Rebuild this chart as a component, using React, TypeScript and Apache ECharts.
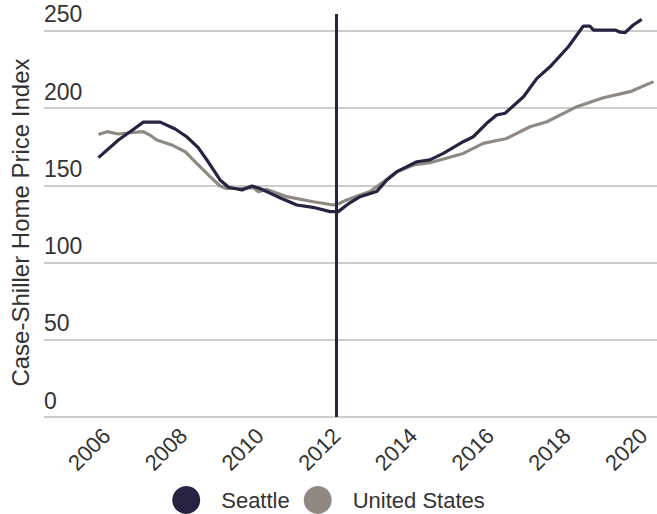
import React, { useEffect, useRef } from "react";
import * as echarts from "echarts";

const yearTicks = [2006, 2008, 2010, 2012, 2014, 2016, 2018, 2020];
const yTicks = [0, 50, 100, 150, 200, 250];
const markerYear = 2012;

const seattleDates = [
  2005.79, 2006.31, 2006.74, 2006.96, 2007.4, 2007.79, 2008.09, 2008.39, 2008.65, 2008.96,
  2009.18, 2009.53, 2009.79, 2010.0, 2010.26, 2010.52, 2010.96, 2011.38, 2011.83, 2012.04,
  2012.3, 2012.61, 2013.04, 2013.31, 2013.57, 2014.09, 2014.43, 2014.78, 2015.3, 2015.56,
  2015.91, 2016.17, 2016.39, 2016.87, 2017.22, 2017.56, 2018.04, 2018.43, 2018.6, 2018.69,
  2019.26, 2019.39, 2019.52, 2019.73, 2019.95,
];
const seattleValues = [
  168, 179.4, 187, 191, 191, 186.5, 181.5, 174.5, 165.3, 153.5,
  148.8, 147, 149.6, 148, 145, 142, 137.3, 135.8, 133, 133,
  138, 142.7, 146, 153.5, 158.9, 165.3, 166.5, 170.7, 178.3, 181.5,
  190.2, 195.6, 196.7, 207.4, 219.3, 226.8, 239.8, 253.2, 253.2, 250.6,
  250.6, 249.2, 249, 253.9, 257.5,
];

const usDates = [
  2005.79, 2006.01, 2006.31, 2006.61, 2006.96, 2007.13, 2007.31, 2007.7, 2008.05, 2008.35,
  2008.7, 2008.96, 2009.13, 2009.48, 2009.83, 2009.96, 2010.18, 2010.7, 2011.39, 2011.91,
  2012.04, 2012.26, 2012.61, 2012.87, 2013.22, 2013.57, 2014.0, 2014.43, 2015.3, 2015.82,
  2016.43, 2017.04, 2017.48, 2018.26, 2018.95, 2019.65, 2020.26,
];
const usValues = [
  183, 184.8, 183.3, 184.1, 184.8, 182.6, 179.4, 176.2, 171.8, 164.3,
  155.7, 149.6, 148, 148, 148.5, 145.9, 147.4, 142.7, 139.4, 137.3,
  138, 140.5, 143.8, 146, 152.4, 158.9, 163.2, 164.7, 170.7, 177.2,
  180.4, 188, 191.2, 201, 206.8, 210.7, 217.2,
];

const SEATTLE = "#262240";
const US = "#8f8982";
const FONT = "Liberation Sans, Arial, sans-serif";

export default function App() {
  const ref = useRef<HTMLDivElement>(null);
  useEffect(() => {
    if (!ref.current) return;
    const chart = echarts.init(ref.current, undefined, { renderer: "svg" });
    chart.setOption({
      animation: false,
      grid: { left: 44, right: 0, top: 14, bottom: 97, containLabel: false, outerBoundsMode: "none" },
      legend: {
        top: 486,
        left: "center",
        icon: "circle",
        itemWidth: 28,
        itemHeight: 28,
        itemGap: 14,
        padding: 0,
        textStyle: { fontFamily: FONT, fontSize: 22, color: "#333", padding: [0, 0, 0, 16] },
        data: ["Seattle", "United States"],
      },
      xAxis: {
        type: "value",
        min: 2004.37,
        max: 2020.35,
        axisLine: { show: false },
        axisTick: { show: false },
        splitLine: { show: false },
        axisLabel: {
          customValues: yearTicks,
          rotate: 45,
          margin: 15,
          fontFamily: FONT,
          fontSize: 22,
          color: "#333",
          formatter: (v: number) => String(v),
        },
      },
      yAxis: {
        type: "value",
        min: 0,
        max: 261,
        interval: 50,
        name: "Case-Shiller Home Price Index",
        nameLocation: "middle",
        nameGap: 12,
        nameTextStyle: { fontFamily: FONT, fontSize: 24, color: "#333", padding: [0, 14, 0, 0] },
        axisLine: { show: false },
        axisTick: { show: false },
        splitLine: { show: true, showMaxLine: false, lineStyle: { color: "#cccccc", width: 2 } },
        axisLabel: {
          inside: true,
          margin: 0,
          verticalAlign: "bottom",
          padding: [0, 0, 5, 0],
          fontFamily: FONT,
          fontSize: 23,
          color: "#333",
          customValues: yTicks,
        },
      },
      series: [
        {
          name: "Seattle",
          type: "line",
          data: seattleDates.map((d, i) => [d, seattleValues[i]]),
          showSymbol: false,
          symbol: "circle",
          itemStyle: { color: SEATTLE },
          lineStyle: { color: SEATTLE, width: 3.2 },
          clip: false,
          z: 3,
          markLine: {
            silent: true,
            symbol: ["none", "none"],
            label: { show: false },
            lineStyle: { color: SEATTLE, width: 3, type: "solid" },
            data: [{ xAxis: markerYear }],
          },
        },
        {
          name: "United States",
          type: "line",
          data: usDates.map((d, i) => [d, usValues[i]]),
          showSymbol: false,
          symbol: "circle",
          itemStyle: { color: US },
          lineStyle: { color: US, width: 3.2 },
          clip: false,
          z: 2,
        },
      ],
    });
    return () => chart.dispose();
  }, []);
  return <div ref={ref} style={{ width: 657, height: 514, position: "absolute", left: 0, top: 0 }} />;
}
